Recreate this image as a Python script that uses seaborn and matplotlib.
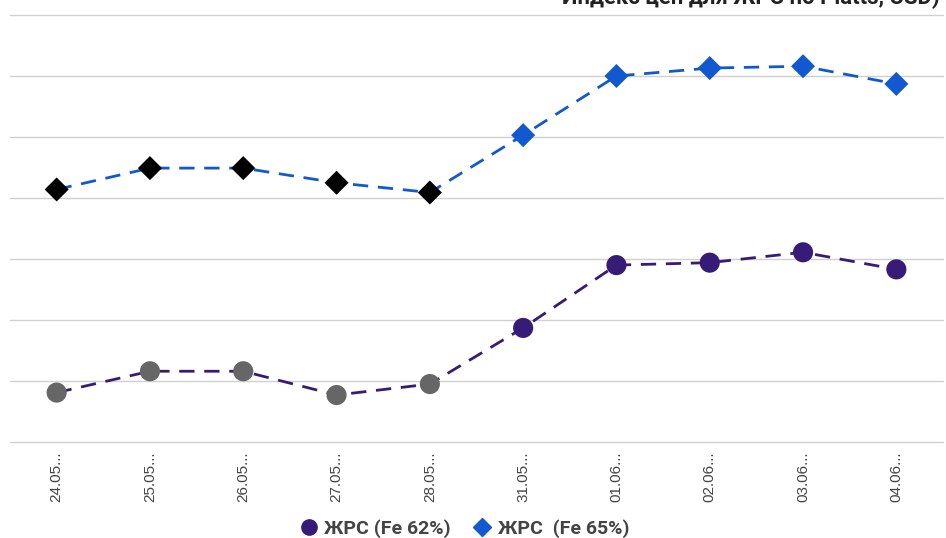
import numpy as np
import pandas as pd
import matplotlib
import matplotlib.pyplot as plt
import seaborn as sns
from matplotlib.lines import Line2D

matplotlib.use('Agg')

# data (USD/t, y axis has no labels)
dates = ['24.05...', '25.05...', '26.05...', '27.05...', '28.05...',
         '31.05...', '01.06...', '02.06...', '03.06...', '04.06...']
fe62 = [188.1, 191.6, 191.6, 187.7, 189.5, 198.7, 209.0, 209.4, 211.1, 208.3]
fe65 = [221.4, 224.9, 224.9, 222.5, 220.9, 230.3, 240.0, 241.3, 241.6, 238.7]
# first five points are drawn in a different (old) colour
point_group = ['old'] * 5 + ['new'] * 5

title = 'Индекс цен для ЖРС по Platts, USD)'
labels = ['ЖРС (Fe 62%)', 'ЖРС  (Fe 65%)']

purple = '#361c77'
blue = '#1258cf'

sns.set_style('white')
plt.rcParams['font.family'] = ['Roboto', 'DejaVu Sans']

df62 = pd.DataFrame({'date': dates, 'price': fe62, 'grp': point_group})
df65 = pd.DataFrame({'date': dates, 'price': fe65, 'grp': point_group})

fig = plt.figure(figsize=(9.46, 5.38), dpi=100)
ax = fig.add_axes([10 / 946, 1 - 442 / 538, 933 / 946, 427 / 538])

sns.lineplot(data=df62, x='date', y='price', color=purple, lw=2,
             dashes=False, ax=ax, zorder=2, sort=False)
sns.lineplot(data=df65, x='date', y='price', color=blue, lw=2,
             dashes=False, ax=ax, zorder=2, sort=False)
for ln in ax.get_lines():
    ln.set_dashes((5.5, 3.5))

sns.scatterplot(data=df62, x='date', y='price', hue='grp',
                palette={'old': '#666666', 'new': purple}, marker='o',
                s=210, edgecolor='none', legend=False, ax=ax, zorder=3)
sns.scatterplot(data=df65, x='date', y='price', hue='grp',
                palette={'old': '#000000', 'new': blue}, marker='D',
                s=150, edgecolor='none', legend=False, ax=ax, zorder=3)

ax.set_xlim(-0.5, len(dates) - 0.5)
ax.set_ylim(180, 250)
ax.set_yticks(np.arange(180, 251, 10))
ax.set_yticklabels([])
ax.grid(axis='y', color='#d0d0d0', lw=1)
ax.grid(axis='x', visible=False)
for gl in ax.yaxis.get_gridlines():
    gl.set_clip_on(False)
ax.tick_params(axis='both', length=0)
ax.tick_params(axis='x', pad=7, labelcolor='#444444')
plt.setp(ax.get_xticklabels(), rotation=90, fontsize=11,
         family=['Liberation Sans', 'DejaVu Sans'])
ax.set_xlabel('')
ax.set_ylabel('')
for s in ax.spines.values():
    s.set_visible(False)

fig.text(940 / 946, 1 - 4 / 538, title, ha='right', va='baseline',
         fontsize=15.9, fontweight='bold', color='#222222')

handles = [Line2D([], [], ls='none', marker='o', color=purple, markersize=11),
           Line2D([], [], ls='none', marker='D', color=blue, markersize=9)]
fig.legend(handles, labels, loc='center', bbox_to_anchor=(463 / 946, 1 - 529 / 538),
           ncol=2, frameon=False, handletextpad=0.2, columnspacing=1.0,
           handlelength=1.2, prop={'weight': 'bold', 'size': 14},
           labelcolor='#444444')

plt.savefig('out.png', dpi=100)
plt.close()
